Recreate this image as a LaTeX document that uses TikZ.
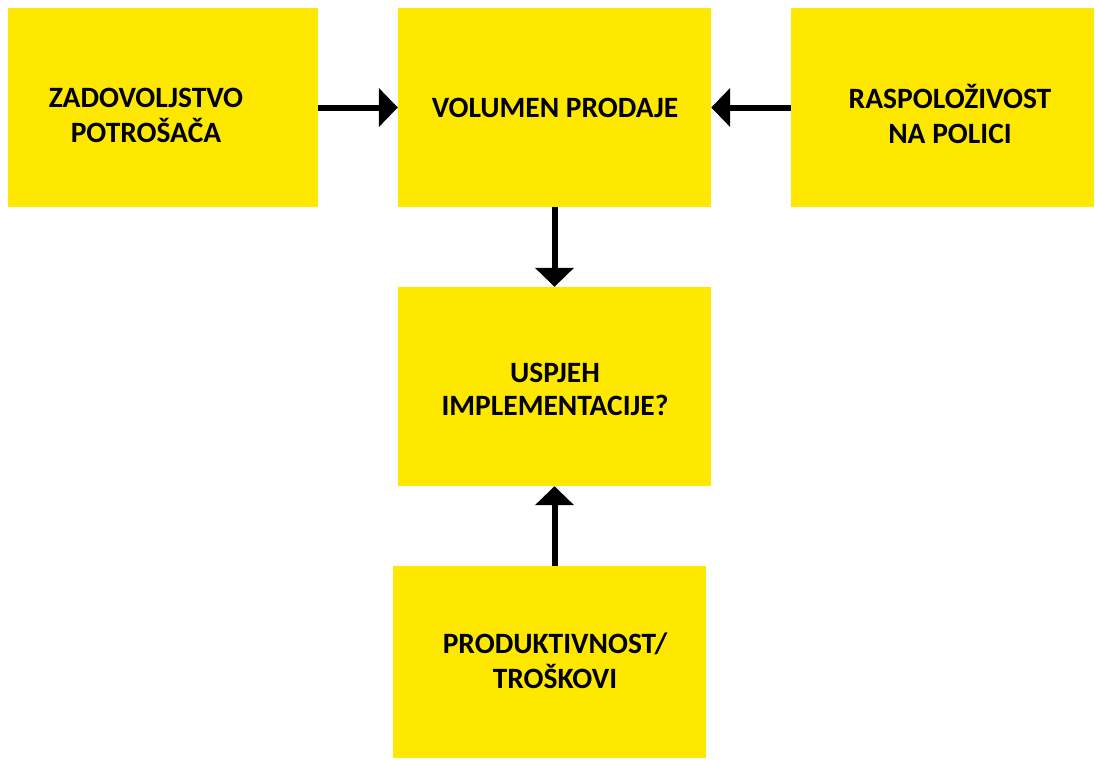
\documentclass[tikz,border=0pt]{standalone}
\usepackage{fontspec}
\setmainfont{Carlito}
\usepackage{xcolor}
\usepackage{tikz}
\usetikzlibrary{arrows.meta}
\definecolor{zuta}{RGB}{255,232,0}

\begin{document}
\begin{tikzpicture}[x=1pt,y=-1pt,
  blok/.style={fill=zuta,inner sep=0pt,minimum height=199pt},
  natpis/.style={text width=300pt,align=flush center,anchor=base,font=\fontsize{29.5}{35}\selectfont\bfseries},
  strelica/.style={-{Triangle[length=19pt,width=38pt]},line width=6pt}]
\useasboundingbox (0,0) rectangle (1095,760);
\node[blok,minimum width=310pt] (zadovoljstvo) at (163,107.5) {};
\node[blok,minimum width=313pt] (volumen) at (554.5,107.5) {};
\node[blok,minimum width=303pt] (raspolozivost) at (942.5,107.5) {};
\node[blok,minimum width=313pt] (uspjeh) at (554.5,386.5) {};
\node[blok,minimum width=313pt,minimum height=192pt] (produktivnost) at (549.5,662) {};
\node[natpis] (zadovoljstvo-txt) at (146,107) {ZADOVOLJSTVO\\POTROŠAČA};
\node[natpis] (volumen-txt) at (555,117) {VOLUMEN PRODAJE};
\node[natpis] (raspolozivost-txt) at (950,108) {RASPOLOŽIVOST\\NA POLICI};
\node[natpis,font=\fontsize{29.5}{33}\selectfont\bfseries] (uspjeh-txt) at (555,382) {USPJEH\\IMPLEMENTACIJE?};
\node[natpis] (produktivnost-txt) at (555,653) {PRODUKTIVNOST/\\TROŠKOVI};
\draw[strelica] (zadovoljstvo.east) -- (volumen.west);
\draw[strelica] (raspolozivost.west) -- (volumen.east);
\draw[strelica] (volumen.south) -- (uspjeh.north);
\draw[strelica] (uspjeh.south |- produktivnost.north) -- (uspjeh.south);
\end{tikzpicture}
\end{document}
